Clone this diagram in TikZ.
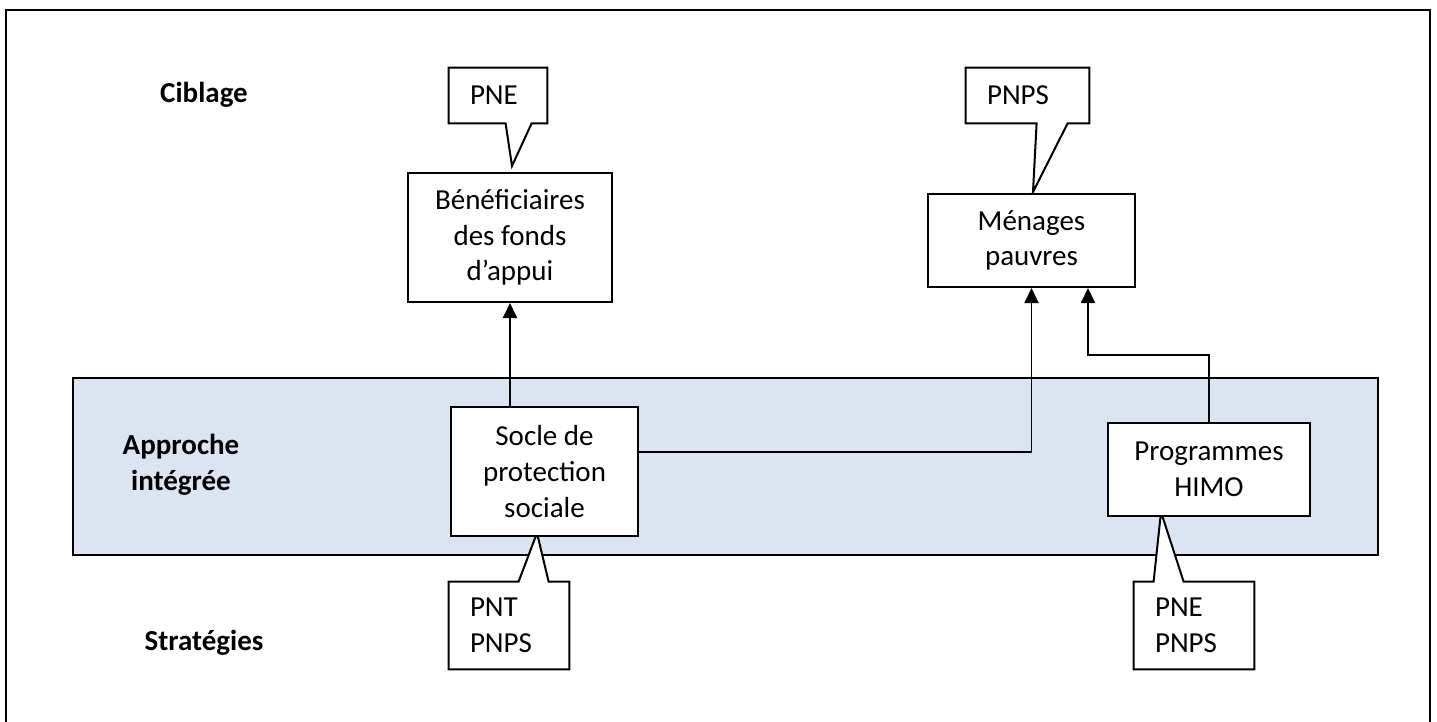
\documentclass[tikz,border=0pt]{standalone}
\usepackage{fontspec}
\setmainfont{Carlito}
\usetikzlibrary{arrows.meta,calc}
\definecolor{bandblue}{HTML}{DBE5F1}
\pgfdeclarelayer{bg}\pgfdeclarelayer{mid}\pgfsetlayers{bg,mid,main}
\begin{document}
\begin{tikzpicture}[x=0.5pt,y=-0.5pt,
  font=\fontsize{14.5}{17.8}\selectfont,
  box/.style={draw, line width=1pt, fill=white, inner sep=0pt, align=center},
  call/.style={inner xsep=10.5pt, inner ysep=0pt, minimum width=0pt, align=left},
  callshape/.style={draw, line width=1pt, fill=white, line join=miter},
  lbl/.style={font=\fontsize{14.5}{17.8}\selectfont\bfseries, align=center},
  arr/.style={line width=0.9pt, -{Triangle[width=7pt,length=7.5pt]}}]
\useasboundingbox (0,0) rectangle (1437,722);
\draw[line width=1.2pt] (6,722) -- (6,10) -- (1430,10) -- (1430,722);
% band
\begin{pgfonlayer}{bg}
\node[draw, line width=1pt, fill=bandblue, minimum width=652.5pt, minimum height=88.5pt, inner sep=0pt] (band) at (725.5,466.5) {};
\end{pgfonlayer}
% labels
\node[lbl] (l1) at (204,95) {Ciblage};
\node[lbl] (l2) at (181,465) {Approche\\intégrée};
\node[lbl] (l3) at (204,643) {Stratégies};
% boxes
\node[box, minimum width=102pt, minimum height=64.5pt] (ben) at (510,237.5) {Bénéficiaires\\des fonds\\d’appui};
\node[box, minimum width=103.5pt, minimum height=46.5pt] (men) at (1031.5,240.5) {Ménages\\pauvres};
\node[box, minimum width=93.5pt, minimum height=64.5pt] (socle) at (544.5,471.5) {Socle de\\protection\\sociale};
\node[box, minimum width=101pt, minimum height=46.5pt] (prog) at (1209,469.5) {Programmes\\HIMO};
% callouts
\node[call, text width=28pt, minimum height=27.5pt] (cA) at (498,95.5) {PNE};
\node[call, text width=40.5pt, minimum height=27.5pt] (cB) at (1027.5,95.5) {PNPS};
\node[call, text width=39pt, minimum height=43.5pt] (cC) at (509,625.5) {PNT\\PNPS};
\node[call, text width=39pt, minimum height=43.5pt] (cD) at (1194,625.5) {PNE\\PNPS};
\coordinate (tA) at (512,166);
\coordinate (tB) at (1033,192);
\coordinate (tC) at (537,533);
\coordinate (tD) at (1161,512);
\begin{pgfonlayer}{mid}
\draw[callshape] (cA.north west) -- (cA.north east) -- (cA.south east) -- ($(cA.south west)+(83,0)$) -- (tA) -- ($(cA.south west)+(57,0)$) -- (cA.south west) -- cycle;
\draw[callshape] (cB.north west) -- (cB.north east) -- (cB.south east) -- ($(cB.south west)+(102,0)$) -- (tB) -- ($(cB.south west)+(71,0)$) -- (cB.south west) -- cycle;
\draw[callshape] (cC.south west) -- (cC.south east) -- (cC.north east) -- ($(cC.north west)+(100,0)$) -- (tC) -- ($(cC.north west)+(70,0)$) -- (cC.north west) -- cycle;
\draw[callshape] (cD.south west) -- (cD.south east) -- (cD.north east) -- ($(cD.north west)+(50,0)$) -- (tD) -- ($(cD.north west)+(20,0)$) -- (cD.north west) -- cycle;
\end{pgfonlayer}
% connectors
\draw[arr] (socle.north -| ben.south) -- (ben.south);
\coordinate (sE) at ($(socle.north east)!0.35!(socle.south east)$);
\draw[arr] (sE) -| (men.south);
\coordinate (mR) at ($(men.south)+(56.5,0)$);
\draw[arr] (prog.north) -- ++(0,-67) -| (mR);
\end{tikzpicture}
\end{document}
